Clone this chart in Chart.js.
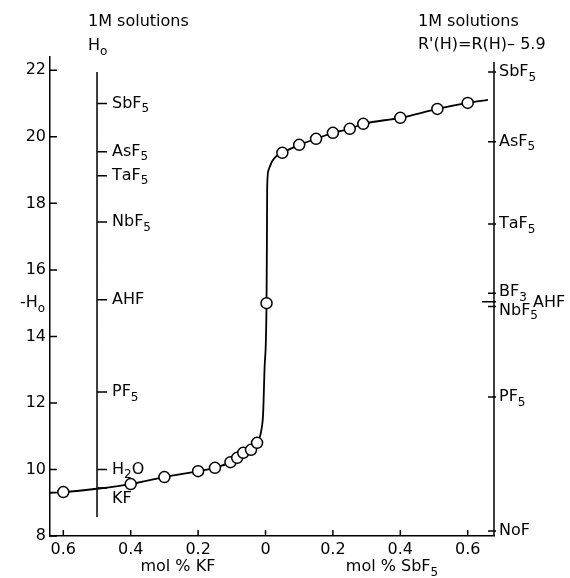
<!DOCTYPE html>
<html>
<head>
<meta charset="utf-8">
<script src="https://cdn.jsdelivr.net/npm/chart.js@4.4.1/dist/chart.umd.min.js"></script>
<style>
  html, body { margin: 0; background: #fff; }
</style>
</head>
<body>
<canvas id="acidity" width="570" height="578"></canvas>
<script>
// mol % additive; KF side is stored as negative values, SbF5 side positive
const pointX = [-0.6, -0.4, -0.3, -0.2, -0.15, -0.104, -0.084, -0.066, -0.043, -0.025, 0.003, 0.05, 0.1, 0.15, 0.2, 0.25, 0.29, 0.4, 0.51, 0.6];
const pointY = [9.32, 9.56, 9.77, 9.95, 10.05, 10.22, 10.35, 10.5, 10.59, 10.8, 15.0, 19.52, 19.76, 19.94, 20.12, 20.24, 20.39, 20.57, 20.84, 21.02];

// hand drawn titration curve
const curveX = [-0.6395, -0.6, -0.5, -0.4, -0.3, -0.2, -0.15, -0.104, -0.084, -0.066, -0.043, -0.025, -0.012, -0.007, -0.003, 0.003, 0.0042, 0.005, 0.009, 0.019, 0.03, 0.05, 0.1, 0.15, 0.2, 0.25, 0.29, 0.4, 0.51, 0.6, 0.66];
const curveY = [9.3, 9.32, 9.42, 9.56, 9.77, 9.95, 10.05, 10.22, 10.35, 10.5, 10.59, 10.8, 11.2, 11.7, 13.0, 15.0, 17.0, 18.5, 19.0, 19.25, 19.4, 19.52, 19.76, 19.94, 20.12, 20.24, 20.39, 20.57, 20.84, 21.02, 21.11];

const xTickVals = [-0.6, -0.4, -0.2, 0, 0.2, 0.4, 0.6];
const yTickVals = [8, 10, 12, 14, 16, 18, 20, 22];

// Ho scale of 1M solutions (drawn at -0.5 on the KF side)
const h0AxisAt = -0.5;
const h0Names = ["SbF_5", "AsF_5", "TaF_5", "NbF_5", "AHF", "PF_5", "H_2O", "KF"];
const h0Values = [21.0, 19.55, 18.83, 17.44, 15.1, 12.33, 10.0, 9.44];

// R'(H) scale of 1M solutions (right hand axis)
const rNames = ["SbF_5", "AsF_5", "TaF_5", "BF_3", "NbF_5", "PF_5", "NoF"];
const rValues = [21.95, 19.85, 17.38, 15.3, 14.9, 12.18, 8.15];
const rAhf = 15.04;

const FONT = '"DejaVu Sans", sans-serif';

// text with "_x" meaning subscript x
function chem(ctx, text, x, y, size) {
  let cx = x;
  for (let i = 0; i < text.length; i++) {
    if (text[i] === "_" && i + 1 < text.length) {
      ctx.font = Math.round(size * 0.72) + "px " + FONT;
      ctx.fillText(text[i + 1], cx, y + size * 0.34);
      cx += ctx.measureText(text[i + 1]).width;
      i++;
    } else {
      ctx.font = size + "px " + FONT;
      ctx.fillText(text[i], cx, y);
      cx += ctx.measureText(text[i]).width;
    }
  }
  return cx - x;
}

const annot = {
  id: "annot",
  afterDraw(chart) {
    const { ctx, chartArea: a, scales: { x, y } } = chart;
    ctx.save();
    ctx.strokeStyle = "#000";
    ctx.fillStyle = "#000";
    ctx.lineWidth = 1.5;
    ctx.textBaseline = "middle";
    ctx.textAlign = "left";

    ctx.beginPath();
    // inner tick marks
    xTickVals.forEach((v) => {
      const px = x.getPixelForValue(v);
      ctx.moveTo(px, a.bottom);
      ctx.lineTo(px, a.bottom - 6);
    });
    yTickVals.forEach((v) => {
      const py = y.getPixelForValue(v);
      ctx.moveTo(a.left, py);
      ctx.lineTo(a.left + 7, py);
    });
    // right hand axis
    ctx.moveTo(a.right, a.bottom);
    ctx.lineTo(a.right, y.getPixelForValue(22.25));
    rValues.forEach((v) => {
      const py = y.getPixelForValue(v);
      ctx.moveTo(a.right - 6, py);
      ctx.lineTo(a.right + 2, py);
    });
    const ahfY = y.getPixelForValue(rAhf);
    ctx.moveTo(a.right - 12, ahfY);
    ctx.lineTo(a.right + 2, ahfY);
    // Ho scale
    const hx = x.getPixelForValue(h0AxisAt);
    ctx.moveTo(hx, y.getPixelForValue(8.57));
    ctx.lineTo(hx, y.getPixelForValue(21.95));
    h0Values.forEach((v) => {
      const py = y.getPixelForValue(v);
      ctx.moveTo(hx, py);
      ctx.lineTo(hx + 10, py);
    });
    ctx.stroke();

    h0Names.forEach((n, i) => {
      let py = y.getPixelForValue(h0Values[i]);
      if (n === "KF") py += 11;
      chem(ctx, n, hx + 15, py, 16);
    });
    rNames.forEach((n, i) => {
      let py = y.getPixelForValue(rValues[i]);
      if (n === "NbF_5") py += 4;
      if (n === "BF_3") py -= 1;
      chem(ctx, n, a.right + 5, py, 16);
    });
    chem(ctx, "AHF", a.right + 39, ahfY + 1, 16);

    // headings
    chem(ctx, "1M solutions", hx - 9, 22, 16);
    chem(ctx, "H_o", hx - 9, 46, 16);
    chem(ctx, "1M solutions", a.right - 76, 22, 16);
    chem(ctx, "R'(H)=R(H)\u2013 5.9", a.right - 76, 45, 16);
    chem(ctx, "-H_o", 20, y.getPixelForValue(15.0), 16);

    // axis titles
    ctx.font = "16px " + FONT;
    const t1 = "mol % KF";
    chem(ctx, t1, x.getPixelForValue(-0.26) - ctx.measureText(t1).width / 2, 567, 16);
    chem(ctx, "mol % SbF_5", x.getPixelForValue(0.36) - 41, 567, 16);
    ctx.restore();
  }
};

new Chart(document.getElementById("acidity"), {
  type: "scatter",
  data: {
    datasets: [
      {
        label: "measured",
        data: pointX.map((v, i) => ({ x: v, y: pointY[i] })),
        pointRadius: 5.5,
        pointBackgroundColor: "#fff",
        pointBorderColor: "#000",
        pointBorderWidth: 1.5,
      },
      {
        label: "curve",
        data: curveX.map((v, i) => ({ x: v, y: curveY[i] })),
        showLine: true,
        pointRadius: 0,
        borderColor: "#000",
        borderWidth: 1.8,
        cubicInterpolationMode: "monotone",
      },
    ],
  },
  options: {
    responsive: false,
    animation: false,
    layout: { padding: { top: 57, right: 76, left: 0, bottom: 0 } },
    plugins: {
      legend: { display: false },
      tooltip: { enabled: false },
    },
    scales: {
      x: {
        type: "linear",
        min: -0.6395,
        max: 0.678,
        afterFit: (s) => { s.height = 42; },
        afterBuildTicks: (s) => { s.ticks = xTickVals.map((v) => ({ value: v })); },
        grid: { display: false, drawTicks: false },
        border: { color: "#000", width: 1.5 },
        ticks: {
          color: "#000",
          font: { family: FONT, size: 16 },
          padding: 4,
          maxRotation: 0,
          autoSkip: false,
          callback: (v) => (Math.abs(v) < 1e-9 ? "0" : Math.abs(v).toFixed(1)),
        },
      },
      y: {
        type: "linear",
        min: 8,
        max: 22.4,
        afterFit: (s) => { s.width = 50; },
        afterBuildTicks: (s) => { s.ticks = yTickVals.map((v) => ({ value: v })); },
        grid: { display: false, drawTicks: false },
        border: { color: "#000", width: 1.5 },
        ticks: {
          color: "#000",
          font: { family: FONT, size: 16 },
          padding: 4,
          autoSkip: false,
        },
      },
    },
  },
  plugins: [annot],
});
</script>
</body>
</html>
